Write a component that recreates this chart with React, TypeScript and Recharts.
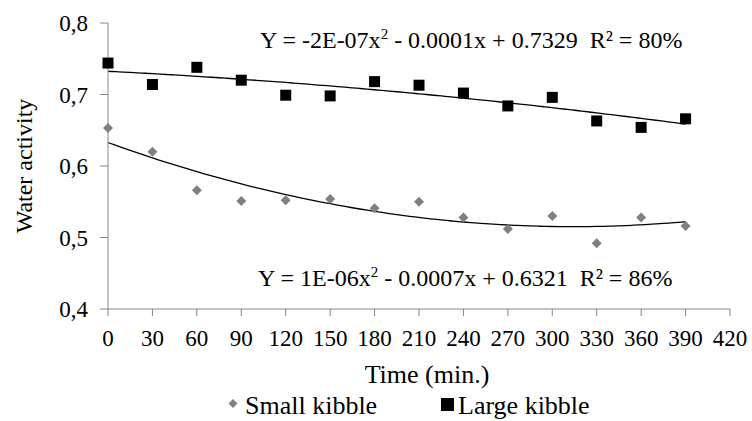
import React from 'react';
import { ComposedChart, Line, Scatter, XAxis, YAxis } from 'recharts';

const times = [0, 30, 60, 90, 120, 150, 180, 210, 240, 270, 300, 330, 360, 390];
const smallKibble = [0.653, 0.62, 0.566, 0.551, 0.552, 0.554, 0.541, 0.55, 0.528, 0.512, 0.53, 0.492, 0.528, 0.516];
const largeKibble = [0.744, 0.714, 0.738, 0.72, 0.699, 0.698, 0.718, 0.713, 0.702, 0.684, 0.696, 0.663, 0.654, 0.666];
const xTicks = [0, 30, 60, 90, 120, 150, 180, 210, 240, 270, 300, 330, 360, 390, 420];
const yTicks = [0.4, 0.5, 0.6, 0.7, 0.8];
const seriesNames = ['Small kibble', 'Large kibble'];

const FONT = 'Liberation Serif';

// least squares quadratic, same as the spreadsheet trendline
function quadFit(xs: number[], ys: number[]) {
  const s = [0, 0, 0, 0, 0];
  let sy = 0, sxy = 0, sx2y = 0;
  xs.forEach((x, i) => {
    for (let k = 0; k < 5; k++) s[k] += Math.pow(x, k);
    sy += ys[i];
    sxy += x * ys[i];
    sx2y += x * x * ys[i];
  });
  const det3 = (m: number[][]) =>
    m[0][0] * (m[1][1] * m[2][2] - m[1][2] * m[2][1]) -
    m[0][1] * (m[1][0] * m[2][2] - m[1][2] * m[2][0]) +
    m[0][2] * (m[1][0] * m[2][1] - m[1][1] * m[2][0]);
  const A = [
    [s[0], s[1], s[2]],
    [s[1], s[2], s[3]],
    [s[2], s[3], s[4]],
  ];
  const b = [sy, sxy, sx2y];
  const d = det3(A);
  const coef = [0, 1, 2].map((c) => det3(A.map((row, r) => row.map((v, j) => (j === c ? b[r] : v)))) / d);
  return (x: number) => coef[0] + coef[1] * x + coef[2] * x * x;
}

const smallData = times.map((x, i) => ({ x, y: smallKibble[i] }));
const largeData = times.map((x, i) => ({ x, y: largeKibble[i] }));

const smallFit = quadFit(times, smallKibble);
const largeFit = quadFit(times, largeKibble);
const trendX = Array.from({ length: 79 }, (_, i) => i * 5);
const smallTrend = trendX.map((x) => ({ x, y: smallFit(x) }));
const largeTrend = trendX.map((x) => ({ x, y: largeFit(x) }));

const Square = (props: any) => {
  const { cx, cy } = props;
  return <rect x={cx - 5.5} y={cy - 5.5} width={11} height={11} fill="#000" />;
};

const Diamond = (props: any) => {
  const { cx, cy } = props;
  return <polygon points={`${cx},${cy - 5} ${cx + 5},${cy} ${cx},${cy + 5} ${cx - 5},${cy}`} fill="#808080" />;
};

const axisColor = '#868686';
const textStyle = { fontFamily: FONT };

export default function App() {
  return (
    <div style={{ position: 'absolute', left: 0, top: 0, width: 752, height: 421, background: '#fff', fontFamily: FONT }}>
      <ComposedChart width={752} height={421} margin={{ top: 23, right: 22, bottom: 0, left: 0 }} style={textStyle}>
        <XAxis
          dataKey="x"
          type="number"
          domain={[0, 420]}
          ticks={xTicks}
          height={112}
          tickSize={7}
          tickMargin={14}
          stroke={axisColor}
          tick={{ fill: '#000', fontSize: 23, style: textStyle }}
        />
        <YAxis
          dataKey="y"
          type="number"
          domain={[0.4, 0.8]}
          ticks={yTicks}
          width={108}
          tickSize={8}
          tickMargin={12}
          stroke={axisColor}
          tickFormatter={(v: number) => v.toFixed(1).replace('.', ',')}
          tick={{ fill: '#000', fontSize: 23, style: textStyle }}
        />
        <Line data={largeTrend} dataKey="y" type="monotone" dot={false} stroke="#000" strokeWidth={1.3} isAnimationActive={false} />
        <Line data={smallTrend} dataKey="y" type="monotone" dot={false} stroke="#000" strokeWidth={1.3} isAnimationActive={false} />
        <Scatter name={seriesNames[0]} data={smallData} shape={Diamond} isAnimationActive={false} />
        <Scatter name={seriesNames[1]} data={largeData} shape={Square} isAnimationActive={false} />
      </ComposedChart>
      <svg
        width={752}
        height={421}
        style={{ position: 'absolute', left: 0, top: 0, pointerEvents: 'none', fontFamily: FONT }}
      >
        <text x={260} y={48} fontSize={24} fill="#000" style={{ whiteSpace: 'pre' }}>
          Y = -2E-07x<tspan fontSize={15} dy={-9}>2</tspan>
          <tspan dy={9}>{' - 0.0001x + 0.7329  R² = 80%'}</tspan>
        </text>
        <text x={258} y={286} fontSize={24} fill="#000" style={{ whiteSpace: 'pre' }}>
          Y = 1E-06x<tspan fontSize={15} dy={-9}>2</tspan>
          <tspan dy={9}>{' - 0.0007x + 0.6321  R² = 86%'}</tspan>
        </text>
        <text x={427} y={383} fontSize={26} textAnchor="middle" fill="#000">
          Time (min.)
        </text>
        <text x={0} y={0} fontSize={24} textAnchor="middle" fill="#000" transform="translate(32,166) rotate(-90)">
          Water activity
        </text>
        <polygon points="233,399 237.5,403.5 233,408 228.5,403.5" fill="#808080" />
        <text x={245} y={414} fontSize={26} fill="#000">
          {seriesNames[0]}
        </text>
        <rect x={441} y={398} width={13} height={13} fill="#000" />
        <text x={458} y={414} fontSize={26} fill="#000">
          {seriesNames[1]}
        </text>
      </svg>
    </div>
  );
}
